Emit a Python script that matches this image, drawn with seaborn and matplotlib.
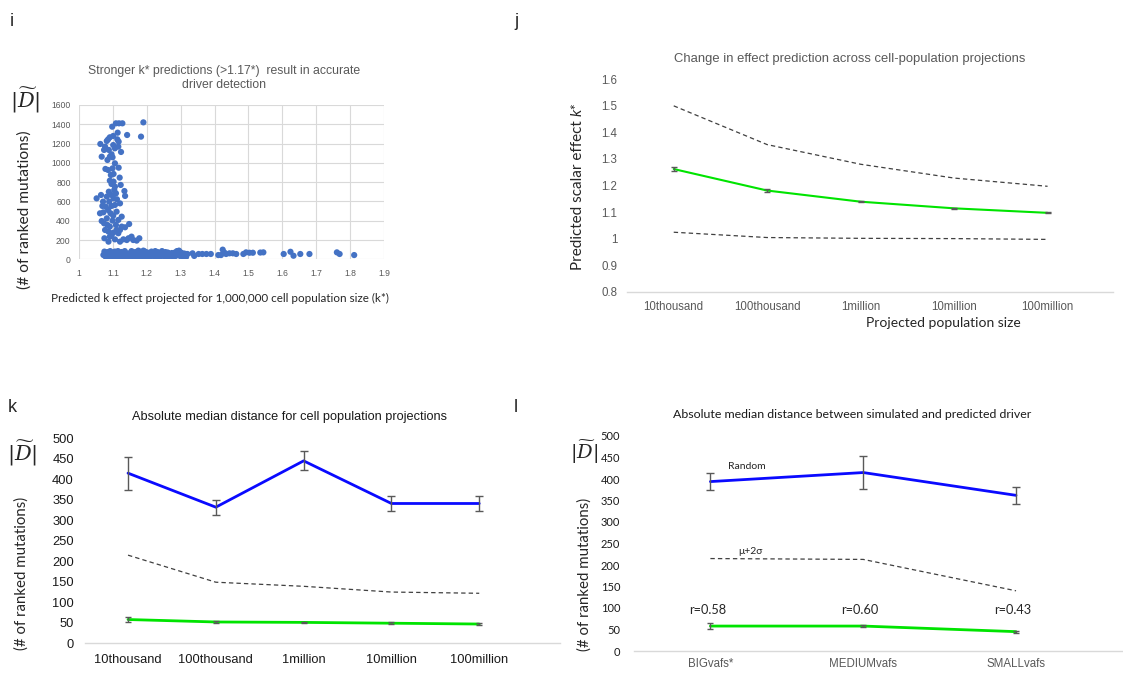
import numpy as np
import pandas as pd
import matplotlib.pyplot as plt
import seaborn as sns

sns.set_style("white")
plt.rcParams['font.family'] = ['Liberation Sans', 'DejaVu Sans']
plt.rcParams['mathtext.fontset'] = 'dejavuserif'

W, H = 1123, 673

# ---- panel i: k* vs |D| scatter ----
k_star = [
    1.109, 1.118, 1.128, 1.190, 1.098, 1.114, 1.142, 1.183, 1.101, 1.091,
    1.086, 1.082, 1.113, 1.117, 1.116, 1.063, 1.077, 1.074, 1.106, 1.124,
    1.067, 1.091, 1.099, 1.096, 1.078, 1.086, 1.099, 1.117, 1.094, 1.102,
    1.120, 1.091, 1.102, 1.096, 1.123, 1.106, 1.134, 1.136, 1.052, 1.065,
    1.082, 1.096, 1.109, 1.102, 1.089, 1.079, 1.096, 1.106, 1.069, 1.062,
    1.072, 1.093, 1.101, 1.082, 1.067, 1.074, 1.099, 1.116, 1.084, 1.109,
    1.126, 1.148, 1.136, 1.087, 1.101, 1.116, 1.091, 1.075, 1.106, 1.131,
    1.141, 1.160, 1.178, 1.170, 1.087, 1.121, 1.146, 1.111, 1.091,
    1.104, 1.088, 1.112, 1.071, 1.121, 1.086, 1.111, 1.126, 1.077, 1.121,
    1.096, 1.155, 1.084, 1.106, 1.101, 1.088,
    # low band
    1.072, 1.075, 1.078, 1.080, 1.082, 1.084, 1.086, 1.088, 1.090, 1.092,
    1.094, 1.096, 1.098, 1.100, 1.102, 1.104, 1.106, 1.108, 1.110, 1.112,
    1.114, 1.116, 1.118, 1.120, 1.122, 1.125, 1.128, 1.130, 1.133, 1.136,
    1.139, 1.142, 1.145, 1.148, 1.151, 1.154, 1.157, 1.160, 1.163, 1.166,
    1.169, 1.172, 1.175, 1.178, 1.181, 1.184, 1.187, 1.190, 1.193, 1.196,
    1.199, 1.202, 1.205, 1.208, 1.211, 1.214, 1.217, 1.220, 1.223, 1.226,
    1.229, 1.232, 1.235, 1.238, 1.241, 1.244, 1.247, 1.250, 1.253, 1.256,
    1.259, 1.262, 1.265, 1.268, 1.271, 1.274, 1.277, 1.280, 1.283, 1.286,
    1.289, 1.292, 1.295, 1.298, 1.301, 1.304, 1.307, 1.310, 1.313, 1.316,
    1.320,
    1.085, 1.095, 1.105, 1.115, 1.125, 1.135, 1.145, 1.155, 1.165, 1.175,
    1.185, 1.195, 1.205, 1.215, 1.225, 1.235, 1.245, 1.255, 1.265,
    # sparse tail
    1.285, 1.295, 1.305, 1.315, 1.335, 1.340, 1.353, 1.364, 1.376, 1.389,
    1.411, 1.419, 1.424, 1.429, 1.434, 1.444, 1.454, 1.464, 1.485, 1.493,
    1.503, 1.513, 1.535, 1.544, 1.604, 1.624, 1.633, 1.653, 1.680, 1.761,
    1.769, 1.812,
]
d_scatter = [
    1410, 1410, 1410, 1420, 1375, 1313, 1289, 1272, 1279, 1265,
    1244, 1227, 1244, 1220, 1168, 1196, 1168, 1134, 1151, 1113,
    1064, 1064, 1058, 1089, 937, 926, 943, 950, 874, 885,
    847, 816, 805, 781, 771, 753, 708, 657, 632, 667,
    650, 667, 684, 632, 598, 546, 553, 563, 553, 477,
    487, 477, 453, 425, 397, 373, 401, 408, 356, 356,
    339, 366, 332, 287, 276, 270, 235, 218, 207, 207,
    200, 200, 218, 194, 183, 183, 218, 304, 339,
    719, 701, 622, 598, 580, 511, 494, 442, 304, 304,
    252, 235, 1030, 995, 1185, 1134,
    45, 80, 30, 60, 20, 75, 40, 55, 25, 85,
    50, 35, 70, 20, 60, 45, 80, 30, 55, 20,
    70, 40, 60, 25, 50, 75, 35, 55, 20, 65,
    45, 30, 60, 50, 25, 70, 40, 55, 30, 75,
    45, 60, 25, 80, 50, 35, 65, 90, 40, 55,
    25, 70, 45, 60, 30, 80, 50, 35, 65, 25,
    55, 75, 40, 60, 30, 70, 50, 35, 60, 25,
    45, 70, 30, 55, 40, 65, 25, 50, 70, 40,
    85, 55, 90, 35, 70, 50, 30, 60, 40, 25,
    55,
    30, 65, 25, 85, 30, 85, 20, 85, 20, 90,
    20, 80, 20, 40, 85, 20, 85, 75, 60,
    35, 62, 44, 55, 62, 35, 55, 55, 55, 55,
    44, 44, 100, 70, 55, 62, 62, 55, 55, 72,
    68, 68, 70, 72, 55, 78, 37, 55, 55, 72,
    55, 44,
]

# ---- panel j: predicted k* across projections ----
pop_sizes = ["10thousand", "100thousand", "1million", "10million", "100million"]
j_mean = [1.262, 1.181, 1.139, 1.114, 1.097]
j_err = [0.006, 0.004, 0.003, 0.003, 0.002]
j_upper = [1.500, 1.354, 1.280, 1.228, 1.197]
j_lower = [1.024, 1.004, 1.001, 1.000, 0.997]

# ---- panel k: median distance across projections ----
k_random = [415, 332, 445, 341, 341]
k_random_err = [40, 18, 23, 18, 18]
k_thresh = [215, 149, 139, 125, 122]
k_pred = [58, 52, 51, 49, 47]
k_pred_err = [5, 3, 2, 2, 3]

# ---- panel l: median distance by VAF group ----
vaf_groups = ["BIGvafs*", "MEDIUMvafs", "SMALLvafs"]
l_random = [394, 415, 362]
l_random_err = [20, 39, 19]
l_thresh = [215, 213, 140]
l_pred = [58, 58, 45]
l_pred_err = [6, 3, 2]
l_r = ["r=0.58", "r=0.60", "r=0.43"]

BLUE = '#0a0aff'
GREEN = '#00e400'
DASH = '#404040'
ERR = '#595959'
GRAY = '#595959'
CAL = ['Lato', 'DejaVu Sans']
DTILDE = r'$|\widetilde{D}|$'


def box(l, t, r, b):
    return [l / W, 1 - b / H, (r - l) / W, (b - t) / H]


def ftext(x, y, s, **kw):
    return fig.text(x / W, 1 - y / H, s, **kw)


def trend(ax, cats, vals, color, lw, dashed=False):
    sns.lineplot(x=cats, y=vals, ax=ax, color=color, lw=lw, sort=False,
                 errorbar=None, linestyle='--' if dashed else '-',
                 dashes=False)
    if dashed:
        ax.lines[-1].set_dashes((3.5, 2.5))


def bars(ax, cats, vals, err, cap=3):
    ax.errorbar(cats, vals, yerr=err, fmt='none', ecolor=ERR, elinewidth=1.0,
                capsize=cap, capthick=1.0, zorder=3)


def excel_axes(ax, xmin, xmax):
    for s in ['top', 'right', 'left']:
        ax.spines[s].set_visible(False)
    ax.spines['bottom'].set_color('#d9d9d9')
    ax.spines['bottom'].set_linewidth(1.0)
    ax.tick_params(length=0)
    ax.set_xlim(xmin, xmax)
    ax.set_xlabel('')
    ax.set_ylabel('')


fig = plt.figure(figsize=(W / 100, H / 100), dpi=100)

# panel i
ax_i = fig.add_axes(box(79, 105, 384, 259.3))
sns.scatterplot(x=k_star, y=d_scatter, ax=ax_i, color='#4472c4', s=20,
                edgecolor='none', zorder=3)
ax_i.set_xlim(1, 1.9)
ax_i.set_ylim(0, 1600)
ax_i.set_xticks(np.arange(1, 1.95, 0.1))
ax_i.set_xticklabels(['1', '1.1', '1.2', '1.3', '1.4', '1.5', '1.6', '1.7', '1.8', '1.9'])
ax_i.set_yticks(np.arange(0, 1601, 200))
ax_i.grid(True, color='#d9d9d9', lw=0.8)
for s in ax_i.spines.values():
    s.set_visible(False)
ax_i.tick_params(length=0, labelsize=6.2, labelcolor=GRAY)
ax_i.tick_params(axis='x', pad=7)
ax_i.tick_params(axis='y', pad=6)
ftext(224, 78, 'Stronger k* predictions (>1.17*)  result in accurate\ndriver detection',
      fontsize=8.8, color=GRAY, ha='center', va='center', linespacing=1.2)
ftext(25, 100, DTILDE, fontsize=15, ha='center', va='center')
ftext(25, 210, '(# of ranked mutations)', fontsize=11.2, rotation=90,
      ha='center', va='center', family=CAL)
ftext(220, 298, 'Predicted k effect projected for 1,000,000 cell population size (k*)',
      fontsize=8.4, ha='center', va='center', family=CAL)

# panel j
ax_j = fig.add_axes(box(627, 79.3, 1113, 291.7))
trend(ax_j, pop_sizes, j_upper, DASH, 0.9, dashed=True)
trend(ax_j, pop_sizes, j_lower, DASH, 0.9, dashed=True)
trend(ax_j, pop_sizes, j_mean, GREEN, 1.5)
bars(ax_j, pop_sizes, j_mean, j_err, cap=2)
excel_axes(ax_j, -0.5, 4.7)
ax_j.set_ylim(0.8, 1.6)
ax_j.set_yticks(np.arange(0.8, 1.61, 0.1))
ax_j.set_yticklabels(['0.8', '0.9', '1', '1.1', '1.2', '1.3', '1.4', '1.5', '1.6'])
ax_j.tick_params(labelsize=8.3, labelcolor=GRAY, pad=7)
ftext(850, 59, 'Change in effect prediction across cell-population projections',
      fontsize=9.4, color=GRAY, ha='center', va='center')
ylab_j = ftext(578, 270, 'Predicted scalar effect ', fontsize=11, rotation=90,
               ha='center', va='bottom', family=CAL)
fig.add_artist(plt.Annotation('k*', xy=(0.5, 1.0), xycoords=ylab_j, fontsize=11,
                              rotation=90, ha='center', va='bottom',
                              family=CAL, style='italic'))
ftext(943, 323, 'Projected population size', fontsize=10, ha='center',
      va='center', family=CAL)

# panel k
ax_k = fig.add_axes(box(85, 438.3, 560, 643.3))
trend(ax_k, pop_sizes, k_thresh, DASH, 0.9, dashed=True)
trend(ax_k, pop_sizes, k_random, BLUE, 2.0)
trend(ax_k, pop_sizes, k_pred, GREEN, 2.0)
bars(ax_k, pop_sizes, k_random, k_random_err)
bars(ax_k, pop_sizes, k_pred, k_pred_err, cap=2)
excel_axes(ax_k, -0.49, 4.92)
ax_k.set_ylim(0, 500)
ax_k.set_yticks(np.arange(0, 501, 50))
ax_k.tick_params(labelsize=9.3, labelcolor='#1a1a1a', pad=8)
ftext(289, 417, 'Absolute median distance for cell population projections',
      fontsize=9.2, color='#1a1a1a', ha='center', va='center')
ftext(22, 453, DTILDE, fontsize=15, ha='center', va='center')
ftext(22, 573, '(# of ranked mutations)', fontsize=10.8, rotation=90,
      ha='center', va='center', family=CAL)

# panel l
ax_l = fig.add_axes(box(634, 436, 1123, 651))
trend(ax_l, vaf_groups, l_thresh, DASH, 0.9, dashed=True)
trend(ax_l, vaf_groups, l_random, BLUE, 2.0)
trend(ax_l, vaf_groups, l_pred, GREEN, 2.0)
bars(ax_l, vaf_groups, l_random, l_random_err)
bars(ax_l, vaf_groups, l_pred, l_pred_err, cap=2)
excel_axes(ax_l, -0.5, 2.7)
ax_l.set_ylim(0, 500)
ax_l.set_yticks(np.arange(0, 501, 50))
ax_l.tick_params(axis='y', labelsize=8, labelcolor='#1a1a1a', pad=10)
ax_l.tick_params(axis='x', labelsize=8.3, labelcolor=GRAY, pad=5)
for lab in ax_l.get_yticklabels():
    lab.set_family(CAL)
ftext(852, 414, 'Absolute median distance between simulated and predicted driver',
      fontsize=8.9, color='#1a1a1a', ha='center', va='center', family=CAL)
ax_l.text(0.24, 430, 'Random', fontsize=7.5, ha='center', va='center', family=CAL)
ax_l.text(0.26, 232, 'μ+2σ', fontsize=7.5, ha='center', va='center', family=CAL)
for i, lab in enumerate(l_r):
    ax_l.text(i - 0.02, 95, lab, fontsize=9.2, ha='center', va='center', family=CAL)
ftext(584, 452, DTILDE, fontsize=14, ha='center', va='center')
ftext(585, 574, '(# of ranked mutations)', fontsize=10.8, rotation=90,
      ha='center', va='center', family=CAL)

# panel letters
for x, y, s in [(12, 22, 'i'), (516, 22, 'j'), (12, 408, 'k'), (516, 408, 'l')]:
    ftext(x, y, s, fontsize=13, ha='center', va='center')

fig.savefig('out.png', dpi=100)
